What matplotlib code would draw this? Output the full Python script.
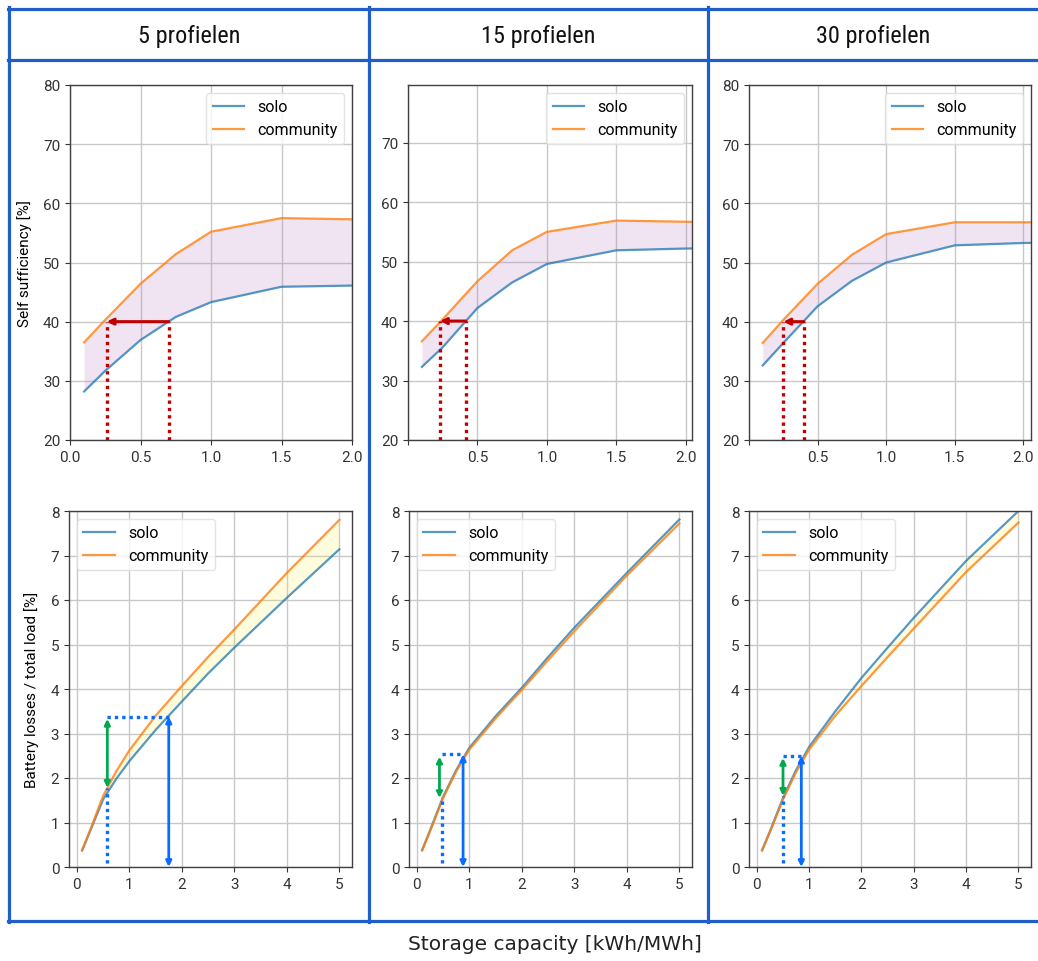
import matplotlib
matplotlib.use("Agg")
import matplotlib.pyplot as plt
from matplotlib.lines import Line2D
from matplotlib import font_manager

names = {f.name for f in font_manager.fontManager.ttflist}
NARROW = "DejaVu Sans"
for cand in ["Liberation Sans Narrow", "Roboto Condensed", "Open Sans Condensed",
             "Noto Sans Condensed", "DejaVu Sans Condensed", "Roboto"]:
    if cand in names:
        NARROW = cand
        break
BODY = "Roboto" if "Roboto" in names else "DejaVu Sans"

# ---------------- data ----------------
headers = ["5 profielen", "15 profielen", "30 profielen"]
x_label = "Storage capacity [kWh/MWh]"
ss_ylabel = "Self sufficiency [%]"
loss_ylabel = "Battery losses / total load [%]"
series_names = ["solo", "community"]

ss_x = [0.1, 0.25, 0.5, 0.75, 1.0, 1.5, 2.0, 3.0]
ss_solo_5 = [28.2, 31.7, 36.9, 40.8, 43.3, 45.9, 46.1, 46.2]
ss_comm_5 = [36.5, 40.3, 46.4, 51.4, 55.2, 57.5, 57.3, 57.2]
ss_solo_15 = [32.3, 35.6, 42.2, 46.5, 49.6, 51.9, 52.2, 52.4]
ss_comm_15 = [36.6, 40.3, 46.7, 51.9, 55.0, 56.9, 56.7, 56.6]
ss_solo_30 = [32.6, 36.4, 42.6, 46.9, 50.0, 52.9, 53.3, 53.5]
ss_comm_30 = [36.4, 40.3, 46.4, 51.3, 54.8, 56.8, 56.8, 56.8]

loss_x = [0.1, 0.25, 0.5, 0.75, 1.0, 1.5, 2.0, 2.5, 3.0, 4.0, 5.0]
loss_solo_5 = [0.37, 0.80, 1.52, 1.98, 2.38, 3.08, 3.72, 4.35, 4.93, 6.05, 7.14]
loss_comm_5 = [0.38, 0.82, 1.60, 2.15, 2.62, 3.40, 4.07, 4.72, 5.34, 6.61, 7.80]
loss_solo_15 = [0.38, 0.82, 1.58, 2.18, 2.68, 3.39, 4.03, 4.72, 5.38, 6.61, 7.81]
loss_comm_15 = [0.37, 0.80, 1.55, 2.15, 2.64, 3.34, 3.98, 4.65, 5.30, 6.55, 7.72]
loss_solo_30 = [0.38, 0.80, 1.55, 2.18, 2.70, 3.50, 4.25, 4.93, 5.60, 6.88, 8.00]
loss_comm_30 = [0.37, 0.78, 1.52, 2.13, 2.64, 3.40, 4.07, 4.72, 5.36, 6.63, 7.74]

# annotation values: target level, solo capacity, community capacity
ss_target = 40
ss_cap_solo = [0.70, 0.415, 0.40]
ss_cap_comm = [0.26, 0.23, 0.25]
# bottom annotations: community x, its loss, solo x, its loss
loss_cap_comm = [0.58, 0.48, 0.50]
loss_at_comm = [1.78, 1.55, 1.60]
loss_cap_solo = [1.75, 0.88, 0.85]
loss_at_solo = [3.38, 2.53, 2.50]
green_x = [0.58, 0.43, 0.50]

ss_sets = [(ss_solo_5, ss_comm_5), (ss_solo_15, ss_comm_15), (ss_solo_30, ss_comm_30)]
loss_sets = [(loss_solo_5, loss_comm_5), (loss_solo_15, loss_comm_15), (loss_solo_30, loss_comm_30)]

# ---------------- layout ----------------
W, H = 1038, 962
fig = plt.figure(figsize=(W / 100, H / 100), dpi=100)

def box(x0, x1, y0, y1):
    return [x0 / W, 1 - y1 / H, (x1 - x0) / W, (y1 - y0) / H]

top_boxes = [box(70, 352, 86, 441), box(408, 692, 86, 441), box(749, 1031, 86, 441)]
bot_boxes = [box(69, 352, 512, 868), box(409, 692, 512, 868), box(749, 1031, 512, 868)]
top_xlims = [(0.0, 2.0), (0.02, 2.045), (0.04, 2.055)]
top_ylims = [(20, 80), (20, 79.7), (20, 80)]

BLUE = "#1f77b4"
ORANGE = "#ff7f0e"
RED = "#c00000"
GREEN = "#00a84f"
ABLUE = "#0a6cff"

def style(ax):
    ax.grid(True, color="#c8c8c8", lw=1.0)
    ax.set_axisbelow(True)
    for s in ax.spines.values():
        s.set_color("#404040")
        s.set_linewidth(1.0)
    ax.tick_params(colors="#333333", labelsize=11, length=3.5)
    for lab in ax.get_xticklabels() + ax.get_yticklabels():
        lab.set_fontfamily(BODY)

LEG = dict(family=BODY, size=11.5)

for i in range(3):
    # ---- top: self sufficiency
    ax = fig.add_axes(top_boxes[i])
    solo, comm = ss_sets[i]
    ax.fill_between(ss_x, solo, comm, color="#b478be", alpha=0.2, lw=0)
    ax.plot(ss_x, solo, color=BLUE, alpha=0.75, lw=1.6, label=series_names[0])
    ax.plot(ss_x, comm, color=ORANGE, alpha=0.8, lw=1.6, label=series_names[1])
    ax.set_xlim(*top_xlims[i])
    ax.set_ylim(*top_ylims[i])
    ax.set_xticks([0.0, 0.5, 1.0, 1.5, 2.0])
    if i == 1:
        ax.set_yticks([20, 30, 40, 50, 60, 70])
    else:
        ax.set_yticks([20, 30, 40, 50, 60, 70, 80])
    if i > 0:
        ax.set_xticklabels(["", "0.5", "1.0", "1.5", "2.0"])
    ax.vlines([ss_cap_comm[i], ss_cap_solo[i]], 20, ss_target, colors=RED,
              linestyles=(0, (1, 1.2)), lw=2.4, zorder=4)
    ax.annotate("", xy=(ss_cap_comm[i], ss_target), xytext=(ss_cap_solo[i], ss_target),
                arrowprops=dict(arrowstyle="-|>", color=RED, lw=2.2, mutation_scale=9,
                                shrinkA=0, shrinkB=0), zorder=5)
    ax.legend(loc="upper right", prop=LEG, framealpha=0.8,
              edgecolor="#dddddd", fancybox=True, handlelength=2.0)
    style(ax)
    if i == 0:
        ax.set_ylabel(ss_ylabel, fontfamily=BODY, fontsize=11, labelpad=8)

    # ---- bottom: battery losses
    ax = fig.add_axes(bot_boxes[i])
    solo, comm = loss_sets[i]
    ax.fill_between(loss_x, solo, comm, color="#ffee33", alpha=0.16, lw=0)
    ax.plot(loss_x, solo, color=BLUE, alpha=0.75, lw=1.6, label=series_names[0])
    ax.plot(loss_x, comm, color=ORANGE, alpha=0.8, lw=1.6, label=series_names[1])
    ax.set_ylim(0, 8)
    ax.set_xlim(-0.15, 5.24)
    ax.set_xticks([0, 1, 2, 3, 4, 5])
    ax.set_yticks(range(0, 9))
    ax.plot([loss_cap_comm[i], loss_cap_comm[i]], [0.1, loss_at_comm[i]], color=ABLUE,
            ls=(0, (1, 1.2)), lw=2.4, zorder=4)
    ax.plot([loss_cap_comm[i], loss_cap_solo[i]], [loss_at_solo[i], loss_at_solo[i]], color=ABLUE,
            ls=(0, (1, 1.2)), lw=2.4, zorder=4)
    ax.annotate("", xy=(loss_cap_solo[i], 0), xytext=(loss_cap_solo[i], loss_at_solo[i]),
                arrowprops=dict(arrowstyle="<|-|>", color=ABLUE, lw=2.0, mutation_scale=8,
                                shrinkA=0, shrinkB=0), zorder=5)
    ax.annotate("", xy=(green_x[i], loss_at_comm[i]), xytext=(green_x[i], loss_at_solo[i] - 0.05),
                arrowprops=dict(arrowstyle="<|-|>", color=GREEN, lw=2.0, mutation_scale=8,
                                shrinkA=0, shrinkB=0), zorder=5)
    ax.legend(loc="upper left", prop=LEG, framealpha=0.8,
              edgecolor="#dddddd", fancybox=True, handlelength=2.0)
    style(ax)
    if i == 0:
        ax.set_ylabel(loss_ylabel, fontfamily=BODY, fontsize=11, labelpad=8)

# ---------------- table frame ----------------
TB = "#1f5fcc"
def hline(y, x0=8, x1=1038):
    fig.add_artist(Line2D([x0 / W, x1 / W], [1 - y / H, 1 - y / H], color=TB, lw=2.3,
                          transform=fig.transFigure))
def vline(x, y0=8, y1=923):
    fig.add_artist(Line2D([x / W, x / W], [1 - y0 / H, 1 - y1 / H], color=TB, lw=2.3,
                          transform=fig.transFigure))
hline(9.5)
hline(60.5)
hline(922)
vline(9)
vline(369)
vline(708)

header_x = [189, 538, 873]
for hx, t in zip(header_x, headers):
    fig.text(hx / W, 1 - 36 / H, t, ha="center", va="center", fontsize=17.5,
             fontfamily=NARROW, color="#111111")

fig.text(555 / W, 1 - 945 / H, x_label, ha="center", va="center", fontsize=14.5,
         fontfamily="DejaVu Sans", color="#222222")

fig.savefig("out.png", dpi=100)
